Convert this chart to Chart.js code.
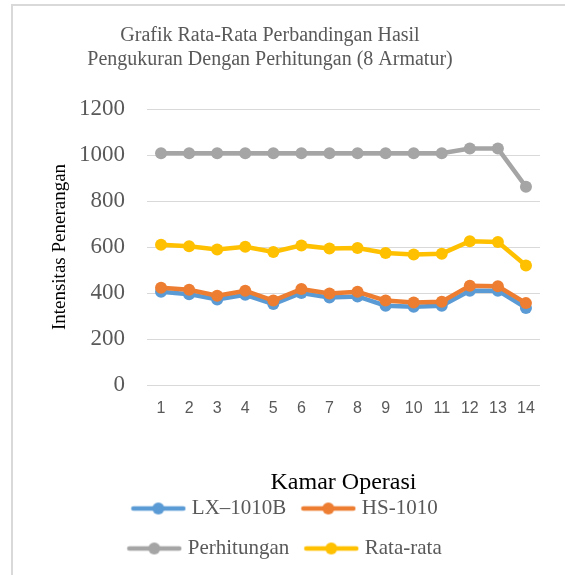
<!DOCTYPE html>
<html>
<head>
<meta charset="utf-8">
<script src="https://cdn.jsdelivr.net/npm/chart.js@4.4.1/dist/chart.umd.min.js"></script>
<style>
    html, body { margin: 0; padding: 0; background: #fff; }
    #wrap { position: relative; width: 565px; height: 575px; overflow: hidden; }
    #frame { position: absolute; left: 11px; top: 4px; width: 600px; height: 600px;
             border-left: 2px solid #d9d9d9; border-top: 2px solid #d9d9d9; }
    canvas { position: absolute; left: 0; top: 0; }
</style>
</head>
<body>
<div id="wrap">
    <div id="frame"></div>
    <canvas id="lineChart" width="565" height="575"></canvas>
</div>
<script>
// Chart data
const rooms = ['1', '2', '3', '4', '5', '6', '7', '8', '9', '10', '11', '12', '13', '14'];
const lx1010b = [405, 395, 372, 392, 352, 400, 380, 385, 345, 340, 345, 410, 410, 335];
const hs1010 = [423, 414, 388, 410, 367, 417, 398, 405, 367, 359, 362, 432, 429, 356];
const perhitungan = [1008, 1008, 1008, 1008, 1008, 1008, 1008, 1008, 1008, 1008, 1008, 1028, 1028, 862];
const rataRata = [610, 603, 589, 601, 578, 607, 593, 596, 574, 567, 571, 625, 622, 520];
const yTicks = [0, 200, 400, 600, 800, 1000, 1200];

const colors = ['#5B9BD5', '#ED7D31', '#A5A5A5', '#FFC000'];
const serif = "'Liberation Serif', 'Times New Roman', serif";

// Line + dot marker for the legend
const makeMarker = (color) => {
    const c = document.createElement('canvas');
    c.width = 56;
    c.height = 14;
    const ctx = c.getContext('2d');
    ctx.strokeStyle = color;
    ctx.lineWidth = 4.5;
    ctx.lineCap = 'round';
    ctx.beginPath();
    ctx.moveTo(3, 7);
    ctx.lineTo(53, 7);
    ctx.stroke();
    ctx.fillStyle = color;
    ctx.beginPath();
    ctx.arc(28, 7, 6, 0, Math.PI * 2);
    ctx.fill();
    return c;
};

// Move the legend under the plot like the original
const legendShift = {
    id: 'legendShift',
    afterLayout(chart) {
        chart.legend.left -= 57;
        chart.legend.right -= 57;
    }
};

const makeSeries = (label, data, i, order) => ({
    label,
    data,
    borderColor: colors[i],
    backgroundColor: colors[i],
    borderWidth: 4.5,
    pointRadius: 6,
    pointBorderWidth: 0,
    tension: 0,
    order
});

new Chart(document.getElementById('lineChart'), {
    type: 'line',
    data: {
        labels: rooms,
        datasets: [
            makeSeries('LX\u20131010B', lx1010b, 0, 1),
            makeSeries('HS-1010', hs1010, 1, 0),
            makeSeries('Perhitungan', perhitungan, 2, 0),
            makeSeries('Rata-rata', rataRata, 3, 0)
        ]
    },
    options: {
        responsive: false,
        animation: false,
        events: [],
        layout: {
            padding: { left: 0, right: 25, top: 0, bottom: 6 }
        },
        plugins: {
            title: {
                display: true,
                text: ['Grafik Rata-Rata Perbandingan Hasil', 'Pengukuran Dengan Perhitungan (8 Armatur)'],
                color: '#595959',
                font: { family: serif, size: 20, weight: 'normal' },
                padding: { top: 24, bottom: 37 }
            },
            legend: {
                position: 'bottom',
                fullSize: false,
                labels: {
                    usePointStyle: true,
                    pointStyleWidth: 46,
                    color: '#595959',
                    font: { family: serif, size: 21 },
                    padding: 19,
                    sort: (a, b) => a.datasetIndex - b.datasetIndex,
                    generateLabels: (chart) => {
                        const items = Chart.defaults.plugins.legend.labels.generateLabels(chart);
                        items.forEach(item => {
                            item.pointStyle = makeMarker(colors[item.datasetIndex]);
                        });
                        return items;
                    }
                }
            },
            tooltip: { enabled: false }
        },
        scales: {
            x: {
                offset: true,
                grid: { display: false, drawTicks: false },
                border: { display: false },
                ticks: {
                    color: '#595959',
                    font: { family: 'Liberation Sans', size: 16 },
                    padding: 14
                },
                title: {
                    display: true,
                    text: 'Kamar Operasi',
                    color: '#000',
                    font: { family: serif, size: 24 },
                    padding: { top: 36, bottom: -18 }
                }
            },
            y: {
                min: 0,
                max: 1200,
                afterBuildTicks: (scale) => {
                    scale.ticks = yTicks.map(v => ({ value: v }));
                },
                afterFit: (scale) => {
                    scale.width = 147;
                },
                grid: { color: '#d9d9d9', lineWidth: 1, drawTicks: false },
                border: { display: false },
                ticks: {
                    color: '#595959',
                    font: { family: serif, size: 23 },
                    padding: 22,
                    callback: (value) => String(value)
                },
                title: {
                    display: true,
                    text: 'Intensitas Penerangan',
                    color: '#000',
                    font: { family: serif, size: 19 },
                    padding: { top: 49, bottom: 0 }
                }
            }
        }
    },
    plugins: [legendShift]
});
</script>
</body>
</html>
